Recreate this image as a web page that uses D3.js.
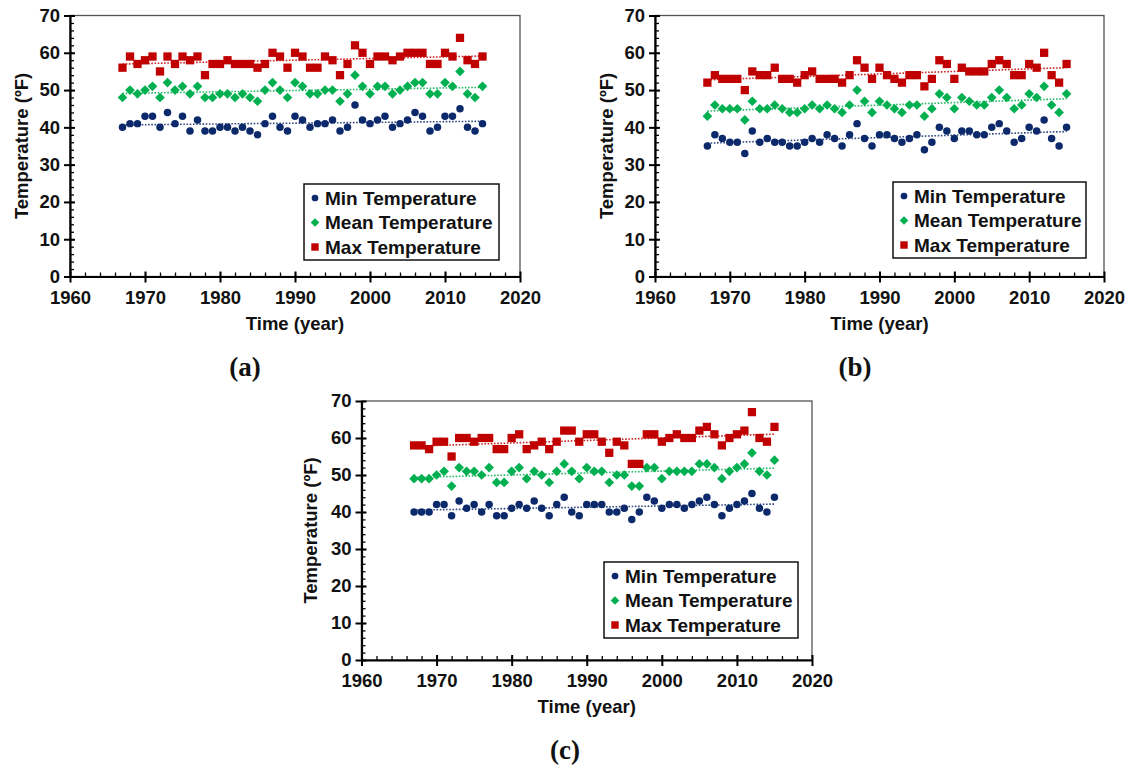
<!DOCTYPE html>
<html><head><meta charset="utf-8">
<script src="https://cdn.jsdelivr.net/npm/d3@7"></script>
<style>body{margin:0;background:#fff}</style>
</head><body><svg id="fig" width="1130" height="768"></svg>
<script>
// Annual temperatures, 1967–2015, for three sites (a), (b), (c)
const years = [1967,1968,1969,1970,1971,1972,1973,1974,1975,1976,1977,1978,1979,1980,1981,1982,1983,1984,1985,1986,1987,1988,1989,1990,1991,1992,1993,1994,1995,1996,1997,1998,1999,2000,2001,2002,2003,2004,2005,2006,2007,2008,2009,2010,2011,2012,2013,2014,2015];

const minA  = [40,41,41,43,43,40,44,41,43,39,42,39,39,40,40,39,40,39,38,41,43,40,39,43,42,40,41,41,42,39,40,46,42,41,42,43,40,41,42,44,43,39,40,43,43,45,40,39,41];
const meanA = [48,50,49,50,51,48,52,50,51,49,51,48,48,49,49,48,49,48,47,50,52,50,48,52,51,49,49,50,50,47,49,54,51,49,51,51,49,50,51,52,52,49,49,52,51,55,49,48,51];
const maxA  = [56,59,57,58,59,55,59,57,59,58,59,54,57,57,58,57,57,57,56,57,60,59,56,60,59,56,56,59,58,54,57,62,60,57,59,59,58,59,60,60,60,57,57,60,59,64,58,57,59];

const minB  = [35,38,37,36,36,33,39,36,37,36,36,35,35,36,37,36,38,37,35,38,41,37,35,38,38,37,36,37,38,34,36,40,39,37,39,39,38,38,40,41,39,36,37,40,39,42,37,35,40];
const meanB = [43,46,45,45,45,42,47,45,45,46,45,44,44,45,46,45,46,45,44,46,50,47,44,47,46,45,44,46,46,43,45,49,48,45,48,47,46,46,48,50,48,45,46,49,48,51,46,44,49];
const maxB  = [52,54,53,53,53,50,55,54,54,56,53,53,52,54,55,53,53,53,52,54,58,56,53,56,54,53,52,54,54,51,53,58,57,53,56,55,55,55,57,58,57,54,54,57,56,60,54,52,57];

const minC  = [40,40,40,42,42,39,43,41,42,40,42,39,39,41,42,41,43,41,39,42,44,40,39,42,42,42,40,40,41,38,40,44,43,41,42,42,41,42,43,44,42,39,41,42,43,45,41,40,44];
const meanC = [49,49,49,50,51,47,52,51,51,50,52,48,48,51,52,49,51,50,48,51,53,51,49,52,51,51,48,50,50,47,47,52,52,49,51,51,51,51,53,53,52,49,51,52,53,56,51,50,54];
const maxC  = [58,58,57,59,59,55,60,60,59,60,60,57,57,60,61,57,58,59,57,59,62,62,59,61,61,59,56,59,58,53,53,61,61,59,60,61,60,60,62,63,61,58,60,61,62,67,60,59,63];

const xTickValues = [1960,1970,1980,1990,2000,2010,2020];
const yTickValues = [0,10,20,30,40,50,60,70];
const seriesNames = ["Min Temperature","Mean Temperature","Max Temperature"];
const seriesColors = ["#0c2a6b","#00b050","#c00000"];
const seriesShapes = ["circle","diamond","square"];

// Panel layout
const panels = [
  {tag:"(a)", series:[minA,meanA,maxA], left:70,  right:520,  top:15.5, bottom:276.5,
   legend:{x:304, y:184, w:195, h:76}, tagPos:[245,376], ylabX:22},
  {tag:"(b)", series:[minB,meanB,maxB], left:655, right:1104, top:15.5, bottom:276.5,
   legend:{x:893, y:182, w:193, h:76}, tagPos:[855,376], ylabX:607},
  {tag:"(c)", series:[minC,meanC,maxC], left:361.5, right:812, top:401, bottom:660,
   legend:{x:604, y:562, w:194, h:76}, tagPos:[565,759], ylabX:311}
];

const svg = d3.select("#fig");
const FONT = "'Liberation Sans', Arial, sans-serif";

function marker(g, shape, color, cx, cy, s) {
  if (shape === "circle") {
    g.append("circle").attr("cx", cx).attr("cy", cy).attr("r", s * 0.48).attr("fill", color);
  } else if (shape === "diamond") {
    const r = s * 0.62;
    g.append("path").attr("d", `M${cx},${cy - r}L${cx + r},${cy}L${cx},${cy + r}L${cx - r},${cy}Z`).attr("fill", color);
  } else {
    const h = s * 0.53;
    g.append("rect").attr("x", cx - h).attr("y", cy - h).attr("width", 2 * h).attr("height", 2 * h).attr("fill", color);
  }
}

function linFit(xs, ys) {
  const n = xs.length, mx = d3.mean(xs), my = d3.mean(ys);
  let sxy = 0, sxx = 0;
  for (let i = 0; i < n; i++) { sxy += (xs[i] - mx) * (ys[i] - my); sxx += (xs[i] - mx) ** 2; }
  const b = sxy / sxx;
  return x => my + b * (x - mx);
}

panels.forEach(p => {
  const x = d3.scaleLinear().domain([1960, 2020]).range([p.left, p.right]);
  const y = d3.scaleLinear().domain([0, 70]).range([p.bottom, p.top]);
  const g = svg.append("g");

  // plot frame
  g.append("rect").attr("x", p.left).attr("y", p.top)
    .attr("width", p.right - p.left).attr("height", p.bottom - p.top)
    .attr("fill", "none").attr("stroke", "#555").attr("stroke-width", 1.3);

  // trend lines
  p.series.forEach((vals, i) => {
    const f = linFit(years, vals);
    g.append("line")
      .attr("x1", x(years[0])).attr("y1", y(f(years[0])))
      .attr("x2", x(years[years.length - 1])).attr("y2", y(f(years[years.length - 1])))
      .attr("stroke", seriesColors[i]).attr("stroke-width", 1.6)
      .attr("stroke-dasharray", "1.6,1.6").attr("opacity", 0.85);
  });

  // points
  p.series.forEach((vals, i) => {
    const pg = g.append("g");
    vals.forEach((v, j) => marker(pg, seriesShapes[i], seriesColors[i], x(years[j]), y(v), 7.8));
  });

  // minor ticks (inside)
  g.append("g").attr("transform", `translate(0,${p.bottom})`)
    .call(d3.axisBottom(x).tickValues(d3.range(1962, 2020, 2)).tickSize(-4).tickFormat(""))
    .call(a => a.select(".domain").remove())
    .selectAll("line").attr("stroke", "#000").attr("stroke-width", 1.3);
  g.append("g").attr("transform", `translate(${p.left},0)`)
    .call(d3.axisLeft(y).tickValues(d3.range(2, 70, 2)).tickSize(-4).tickFormat(""))
    .call(a => a.select(".domain").remove())
    .selectAll("line").attr("stroke", "#000").attr("stroke-width", 1.3);

  // major ticks crossing the axes
  g.append("g").attr("transform", `translate(0,${p.bottom})`)
    .call(d3.axisBottom(x).tickValues(xTickValues).tickSize(-5).tickFormat(""))
    .call(a => a.select(".domain").remove())
    .selectAll("line").attr("stroke", "#000").attr("stroke-width", 2);
  g.append("g").attr("transform", `translate(${p.left},0)`)
    .call(d3.axisLeft(y).tickValues(yTickValues).tickSize(-5).tickFormat(""))
    .call(a => a.select(".domain").remove())
    .selectAll("line").attr("stroke", "#000").attr("stroke-width", 2);

  const xa = g.append("g").attr("transform", `translate(0,${p.bottom})`)
    .call(d3.axisBottom(x).tickValues(xTickValues).tickSize(6).tickPadding(8).tickFormat(d3.format("d")).tickSizeOuter(0));
  const ya = g.append("g").attr("transform", `translate(${p.left},0)`)
    .call(d3.axisLeft(y).tickValues(yTickValues).tickSize(6).tickPadding(4).tickSizeOuter(0));
  [xa, ya].forEach(a => {
    a.select(".domain").attr("stroke", "#000").attr("stroke-width", 2.2);
    a.selectAll("line").attr("stroke", "#000").attr("stroke-width", 2);
    a.selectAll("text").attr("font-family", FONT).attr("font-weight", "bold")
      .attr("font-size", 18.5).attr("fill", "#111");
  });

  // axis titles
  g.append("text").attr("x", (p.left + p.right) / 2).attr("y", p.bottom + 53)
    .attr("text-anchor", "middle").attr("font-family", FONT).attr("font-weight", "bold")
    .attr("font-size", 18.5).attr("fill", "#111").text("Time (year)");
  g.append("text").attr("transform", `translate(${p.ylabX},${(p.top + p.bottom) / 2}) rotate(-90)`)
    .attr("text-anchor", "middle").attr("dy", "0.35em").attr("font-family", FONT).attr("font-weight", "bold")
    .attr("font-size", 18.5).attr("fill", "#111").text("Temperature (ºF)");

  // legend
  const L = p.legend;
  const lg = g.append("g");
  lg.append("rect").attr("x", L.x).attr("y", L.y).attr("width", L.w).attr("height", L.h)
    .attr("fill", "#fff").attr("stroke", "#111").attr("stroke-width", 1.5);
  seriesNames.forEach((name, i) => {
    const cy = L.y + 14 + i * 24.5;
    marker(lg, seriesShapes[i], seriesColors[i], L.x + 11, cy, 7);
    lg.append("text").attr("x", L.x + 21).attr("y", cy).attr("dy", "0.36em")
      .attr("font-family", FONT).attr("font-weight", "bold").attr("font-size", 19)
      .attr("fill", "#111").text(name);
  });

  // panel tag
  g.append("text").attr("x", p.tagPos[0]).attr("y", p.tagPos[1]).attr("text-anchor", "middle")
    .attr("font-family", "'Liberation Serif', 'Times New Roman', serif").attr("font-weight", "bold")
    .attr("font-size", 27).attr("fill", "#111").text(p.tag);
});
</script>
</body></html>
